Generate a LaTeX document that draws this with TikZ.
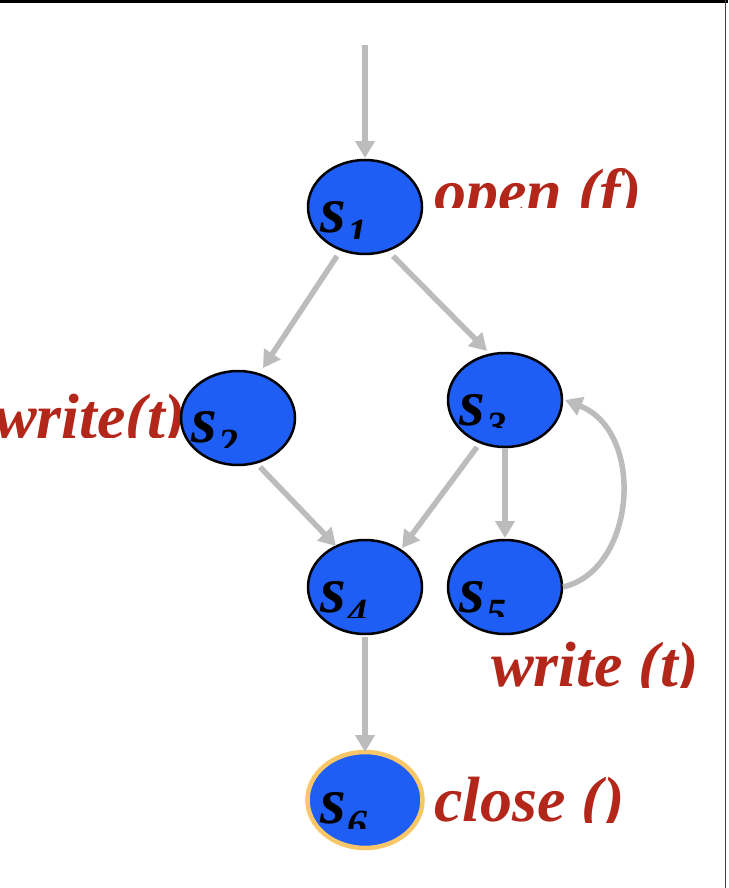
\documentclass[tikz,border=0pt]{standalone}
\usepackage{fontspec}
\setmainfont{Liberation Serif}
\usetikzlibrary{shapes.geometric,arrows.meta,calc}
\definecolor{nodeblue}{RGB}{31,94,245}
\definecolor{labred}{RGB}{179,38,26}
\definecolor{arrgray}{RGB}{188,188,188}
\definecolor{finalring}{RGB}{249,198,104}
\newcommand{\stname}[1]{{\fontsize{66}{66}\selectfont s}\kern2pt\raisebox{-14pt}{\fontsize{40}{40}\selectfont #1}}
\begin{document}
\begin{tikzpicture}[x=1pt,y=-1pt,
  state/.style={ellipse, draw=black, line width=2.5pt, fill=nodeblue, minimum width=114pt, minimum height=94pt, inner sep=0pt},
  final/.style={state, draw=finalring, line width=4.5pt, minimum width=115pt, minimum height=96pt},
  arr/.style={draw=arrgray, line width=5.5pt, -{Triangle[length=17pt,width=19pt]}},
  act/.style={text=labred, font=\fontsize{64}{64}\selectfont\bfseries\itshape, anchor=base west, inner sep=0pt},
  sname/.style={text=black, font=\bfseries\itshape, anchor=base west, inner sep=0pt}]
\useasboundingbox (0,0) rectangle (728,888);
% frame lines
\draw[line width=3pt, black] (0,1.5) -- (728,1.5);
\draw[line width=1.5pt, black!75] (725.5,0) -- (725.5,888);
% left label (behind s2)
\begin{scope}
  \clip (0,0) rectangle (728,437);
  \node[act] (w2) at (-6,438) {write(t)};
\end{scope}
% states
\node[state] (s1) at (365,207) {};
\node[state] (s2) at (238,418) {};
\node[state] (s3) at (505,400) {};
\node[state] (s4) at (365,587) {};
\node[state] (s5) at (505,587) {};
\node[final] (s6) at (365,800) {};
% state names (clipped at the bottom)
\begin{scope}\clip (0,0) rectangle (728,238);
  \node[sname] (n1) at (320,232) {\stname{1}};\end{scope}
\begin{scope}\clip (0,0) rectangle (728,447);
  \node[sname] (n2) at (191,442) {\stname{2}};\end{scope}
\begin{scope}\clip (0,0) rectangle (728,427);
  \node[sname] (n3) at (459,425) {\stname{3}};\end{scope}
\begin{scope}\clip (0,0) rectangle (728,617);
  \node[sname] (n4) at (320,612) {\stname{4}};\end{scope}
\begin{scope}\clip (0,0) rectangle (728,616);
  \node[sname] (n5) at (459,612) {\stname{5}};\end{scope}
\begin{scope}\clip (0,0) rectangle (728,828);
  \node[sname] (n6) at (320,823) {\stname{6}};\end{scope}
% action labels
\begin{scope}\clip (0,0) rectangle (728,207);
  \node[act] (a1) at (434,213) {open (f)};\end{scope}
\begin{scope}\clip (0,0) rectangle (728,687);
  \node[act] (a5) at (491,686) {write (t)};\end{scope}
\begin{scope}\clip (0,0) rectangle (728,822);
  \node[act] (a6) at (434,821) {close ()};\end{scope}
% connectors
\coordinate (init) at (365,45);
\draw[arr] (init) -- ($(s1)+(0,-49)$);
\draw[arr] ($(s1)+(-28,49)$) -- ($(s2)+(25,-50)$);
\draw[arr] ($(s1)+(28,49)$) -- ($(s3)+(-18,-49)$);
\draw[arr] ($(s2)+(22,49)$) -- ($(s4)+(-29,-41)$);
\draw[arr] ($(s3)+(-28,47)$) -- ($(s4)+(37,-39)$);
\draw[arr] ($(s3)+(0,48)$) -- ($(s5)+(0,-49)$);
\draw[arr] ($(s5)+(58,0)$) .. controls ($(s5)+(131,-17)$) and ($(s3)+(141,32)$) .. ($(s3)+(60,0)$);
\draw[arr] ($(s4)+(0,50)$) -- ($(s6)+(0,-48)$);
\end{tikzpicture}
\end{document}
